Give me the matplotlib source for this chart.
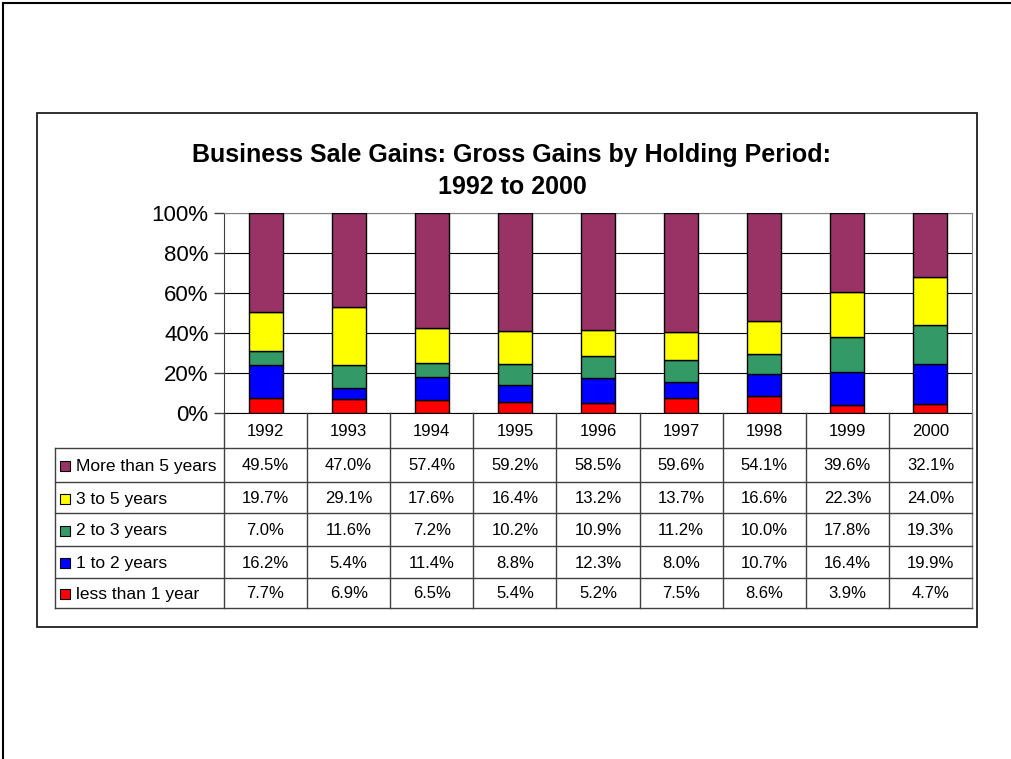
import matplotlib
matplotlib.use("Agg")
import matplotlib.pyplot as plt
import matplotlib.transforms as mtransforms
from matplotlib.patches import Rectangle
from matplotlib.lines import Line2D
import numpy as np

plt.rcParams['font.family'] = ['Liberation Sans', 'DejaVu Sans']

years = ["1992", "1993", "1994", "1995", "1996", "1997", "1998", "1999", "2000"]
series_names = ["More than 5 years", "3 to 5 years", "2 to 3 years", "1 to 2 years", "less than 1 year"]
more_than_5 = [49.5, 47.0, 57.4, 59.2, 58.5, 59.6, 54.1, 39.6, 32.1]
three_to_5 = [19.7, 29.1, 17.6, 16.4, 13.2, 13.7, 16.6, 22.3, 24.0]
two_to_3 = [7.0, 11.6, 7.2, 10.2, 10.9, 11.2, 10.0, 17.8, 19.3]
one_to_2 = [16.2, 5.4, 11.4, 8.8, 12.3, 8.0, 10.7, 16.4, 19.9]
less_than_1 = [7.7, 6.9, 6.5, 5.4, 5.2, 7.5, 8.6, 3.9, 4.7]
colors = ["#993366", "#FFFF00", "#339966", "#0000FF", "#FF0000"]
title = "Business Sale Gains: Gross Gains by Holding Period:\n1992 to 2000"

W, H = 1012, 759
fig = plt.figure(figsize=(W / 100, H / 100), dpi=100)

def fx(px):
    return px / W

def fy(py):
    return 1 - py / H

# page border (left & top)
fig.add_artist(Line2D([fx(3), fx(3)], [fy(3), fy(759)], color="black", lw=1.5, transform=fig.transFigure))
fig.add_artist(Line2D([fx(3), fx(1012)], [fy(3), fy(3)], color="black", lw=1.5, transform=fig.transFigure))

# chart frame
fig.add_artist(Rectangle((fx(37), fy(627)), fx(977) - fx(37), fy(113) - fy(627), fill=False,
                         edgecolor="#202020", lw=1.3, transform=fig.transFigure))

# plot axes
L, R, T, B = 224, 972, 213, 413
ax = fig.add_axes([fx(L), fy(B), fx(R) - fx(L), fy(T) - fy(B)])

data_top_down = [more_than_5, three_to_5, two_to_3, one_to_2, less_than_1]
arr = np.array(data_top_down[::-1], dtype=float)  # bottom-up
totals = arr.sum(axis=0)
pct = arr / totals * 100
cols_bottom_up = colors[::-1]
x = np.arange(len(years))
bottom = np.zeros(len(years))
for k in range(pct.shape[0]):
    ax.bar(x, pct[k], width=0.41, bottom=bottom, color=cols_bottom_up[k], edgecolor="black", lw=1.0, zorder=3)
    bottom += pct[k]

ax.set_xlim(-0.5, len(years) - 0.5)
ax.set_ylim(0, 100)
ax.set_yticks([0, 20, 40, 60, 80, 100])
ax.set_yticklabels(["0%", "20%", "40%", "60%", "80%", "100%"], fontsize=16)
ax.set_xticks([])
ax.yaxis.grid(True, color="black", lw=0.8, zorder=0)
ax.set_axisbelow(True)
ax.tick_params(axis="y", length=7, width=1, direction="out", pad=4, color="#404040")
for side in ["top", "right"]:
    ax.spines[side].set_color("#808080")
ax.spines["left"].set_color("#404040")
ax.spines["bottom"].set_color("black")

fig.text(fx(512), fy(171), title, ha="center", va="center", fontsize=18, fontweight="bold", linespacing=1.38)

# data table
blend = mtransforms.blended_transform_factory(ax.transData, fig.transFigure)
row_edges = [448, 482, 513, 546, 578, 608]
line_c = "#404040"
# header row: years
for i, yr in enumerate(years):
    fig.text(i, fy(431), yr, transform=blend, ha="center", va="center", fontsize=12)
# vertical column lines
for i in range(len(years) + 1):
    xv = i - 0.5
    c = "#808080" if i == len(years) else line_c
    fig.add_artist(Line2D([xv, xv], [fy(B), fy(row_edges[-1])], color=c, lw=1, transform=blend))
# legend column lines
fig.add_artist(Line2D([fx(55), fx(55)], [fy(row_edges[0]), fy(row_edges[-1])], color=line_c, lw=1, transform=fig.transFigure))
for ye in row_edges:
    fig.add_artist(Line2D([fx(55), fx(R)], [fy(ye), fy(ye)], color=line_c, lw=1, transform=fig.transFigure))

for r, (name, vals, col) in enumerate(zip(series_names, data_top_down, colors)):
    yc = (row_edges[r] + row_edges[r + 1]) / 2
    fig.add_artist(Rectangle((fx(60), fy(yc + 6)), fx(10), fy(0) - fy(10), facecolor=col, edgecolor="black",
                             lw=0.8, transform=fig.transFigure))
    fig.text(fx(76), fy(yc + 1.5), name, ha="left", va="center", fontsize=12.5)
    for i, v in enumerate(vals):
        fig.text(i, fy(yc + 1), f"{v:.1f}%", transform=blend, ha="center", va="center", fontsize=12)

fig.savefig("out.png", dpi=100, facecolor="white")
